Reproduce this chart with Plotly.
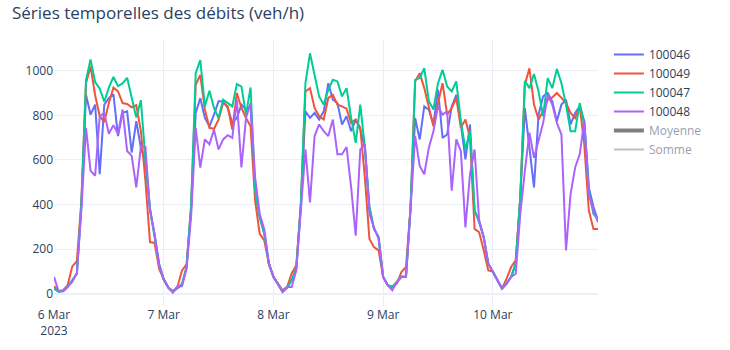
import pandas as pd
import plotly.graph_objects as go

# Hourly timestamps, 6 Mar 2023 00:00 -> 10 Mar 2023 23:00
timestamps = pd.date_range("2023-03-06 00:00", periods=120, freq="h")

# Day ticks on the time axis
day_ticks = ["2023-03-06", "2023-03-07", "2023-03-08", "2023-03-09", "2023-03-10"]
day_labels = ["6 Mar<br>2023", "7 Mar", "8 Mar", "9 Mar", "10 Mar"]

# Hourly flows (veh/h) per counting station
flow_100046 = [
    24, 10, 12, 31, 61, 90, 400, 892, 803, 848, 536, 848, 877, 895, 707, 811, 818, 633, 774, 655, 590, 380, 265, 135,
    65, 28, 9, 25, 40, 120, 380, 811, 877, 788, 751, 803, 863, 863, 833, 766, 788, 848, 825, 840, 462, 343, 269, 135,
    76, 43, 9, 28, 61, 113, 400, 818, 788, 811, 781, 818, 944, 870, 855, 759, 796, 729, 781, 736, 655, 388, 291, 254,
    76, 39, 31, 53, 76, 76, 387, 788, 692, 840, 825, 759, 915, 699, 714, 840, 892, 759, 603, 759, 373, 320, 254, 135,
    100, 61, 24, 46, 76, 135, 432, 833, 655, 477, 803, 885, 900, 863, 774, 848, 870, 759, 811, 840, 774, 477, 390, 328,
]
flow_100049 = [
    34, 13, 16, 39, 123, 146, 420, 944, 1019, 890, 796, 770, 855, 925, 907, 855, 851, 836, 845, 729, 506, 232, 228, 111,
    65, 28, 12, 31, 105, 132, 390, 937, 981, 825, 744, 739, 781, 855, 840, 736, 900, 833, 788, 751, 417, 269, 239, 135,
    76, 43, 16, 31, 91, 128, 400, 907, 922, 833, 796, 781, 878, 892, 848, 840, 830, 766, 781, 744, 521, 246, 209, 195,
    76, 39, 31, 46, 98, 120, 387, 952, 989, 922, 840, 751, 855, 944, 803, 833, 878, 744, 781, 699, 291, 276, 195, 105,
    100, 61, 24, 68, 120, 150, 432, 937, 1011, 848, 781, 818, 870, 880, 900, 878, 855, 811, 788, 840, 670, 373, 291, 291,
]
flow_100047 = [
    24, 9, 12, 31, 61, 90, 410, 958, 1050, 949, 920, 861, 924, 972, 931, 943, 968, 883, 790, 868, 600, 380, 260, 130,
    65, 28, 9, 25, 45, 120, 400, 989, 1048, 840, 910, 833, 788, 870, 855, 840, 940, 929, 803, 925, 462, 343, 269, 135,
    76, 43, 9, 28, 61, 113, 400, 944, 1078, 981, 885, 848, 915, 959, 952, 885, 922, 788, 677, 848, 655, 388, 291, 254,
    76, 39, 31, 53, 76, 76, 387, 959, 967, 1011, 863, 826, 944, 1004, 929, 907, 952, 774, 647, 729, 373, 328, 254, 135,
    100, 61, 24, 46, 76, 135, 432, 955, 922, 985, 907, 796, 967, 922, 1008, 944, 848, 729, 729, 855, 759, 462, 358, 336,
]
flow_100048 = [
    76, 12, 12, 31, 53, 94, 380, 744, 551, 529, 796, 811, 717, 756, 717, 826, 640, 618, 477, 658, 658, 373, 269, 126,
    65, 28, 5, 34, 34, 113, 350, 744, 566, 692, 670, 736, 647, 692, 711, 699, 870, 566, 788, 855, 521, 358, 290, 135,
    76, 43, 9, 31, 31, 105, 400, 647, 410, 707, 759, 729, 707, 781, 625, 625, 658, 477, 261, 647, 670, 358, 298, 246,
    76, 39, 16, 53, 76, 76, 387, 707, 573, 536, 655, 729, 840, 803, 818, 462, 692, 640, 298, 536, 647, 328, 254, 135,
    100, 61, 24, 46, 76, 90, 358, 551, 722, 610, 684, 766, 892, 848, 766, 714, 195, 447, 566, 625, 774, 447, 373, 321,
]

stations = ["100046", "100049", "100047", "100048"]
series = [flow_100046, flow_100049, flow_100047, flow_100048]

# Aggregates across stations (hidden by default, toggled from the legend)
somme = [sum(vals) for vals in zip(*series)]
moyenne = [s / len(series) for s in somme]

fig = go.Figure()
for name, vals in zip(stations, series):
    fig.add_trace(go.Scatter(x=timestamps, y=vals, mode="lines", name=name,
                             line=dict(width=2)))

fig.add_trace(go.Scatter(x=timestamps, y=moyenne, mode="lines", name="Moyenne",
                         line=dict(color="black", width=4), visible="legendonly"))
fig.add_trace(go.Scatter(x=timestamps, y=somme, mode="lines", name="Somme",
                         line=dict(color="grey", width=2), visible="legendonly"))

fig.update_layout(
    template="plotly_white",
    width=730,
    height=350,
    margin=dict(l=54, r=132, t=40, b=44),
    title=dict(text="Séries temporelles des débits (veh/h)", x=12 / 730, xanchor="left",
               y=1 - 13 / 350, yanchor="middle", font=dict(size=17)),
    legend=dict(font=dict(size=12)),
)
fig.update_xaxes(tickmode="array", tickvals=day_ticks, ticktext=day_labels)
fig.update_yaxes(dtick=200)

fig.write_html("out.html")
